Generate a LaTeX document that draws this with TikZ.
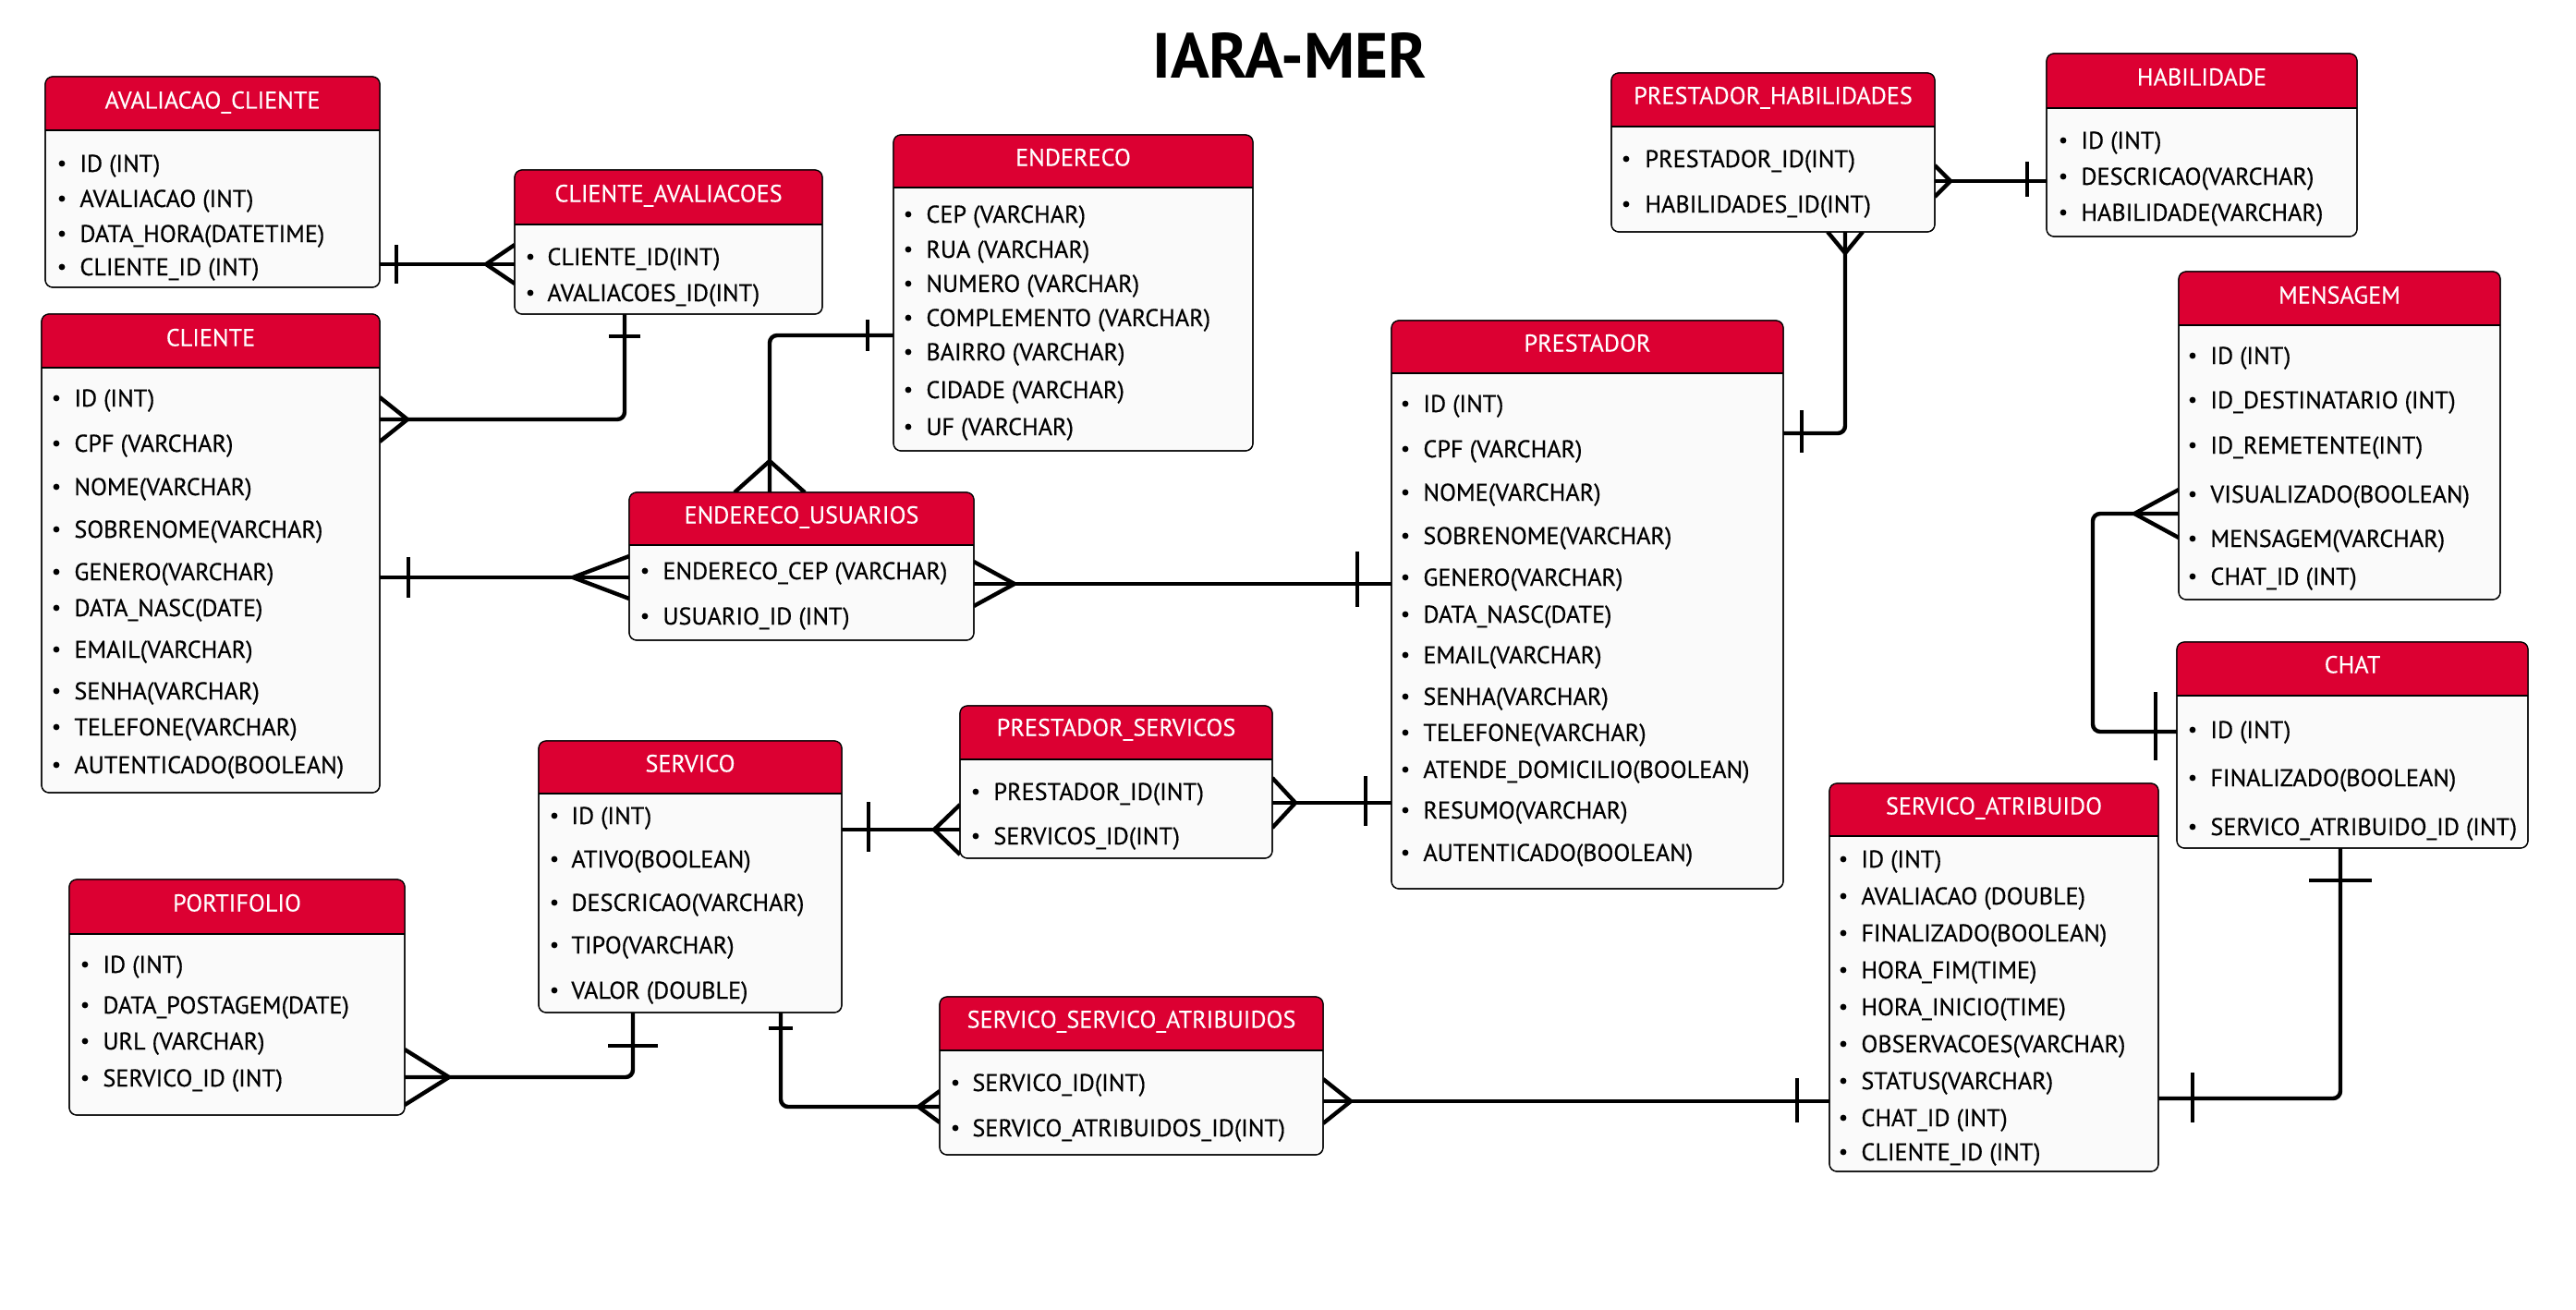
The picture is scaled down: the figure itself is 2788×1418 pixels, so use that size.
\documentclass[tikz,border=0pt]{standalone}
\usepackage{fontspec}
\setmainfont{PT Sans}
\newfontfamily\itemfont{PT Sans}[FakeBold=0.5]
\newfontfamily\hdrfont{PT Sans}[FakeBold=0.25]
\definecolor{hdrred}{RGB}{220,0,50}
\definecolor{bodyfill}{RGB}{250,250,250}
\pgfdeclarelayer{bglayer}
\pgfdeclarelayer{connlayer}
\pgfsetlayers{bglayer,connlayer,main}
\tikzset{
  x=0.5pt, y=-0.5pt,
  conn/.style={line width=2.2pt, rounded corners=4pt},
  crowline/.style={line width=2.2pt},
  tblbody/.style={draw=black, fill=bodyfill, line width=0.6pt, rounded corners=4pt, inner sep=0pt, outer sep=0pt},
  hdrtext/.style={text=white, font=\hdrfont\fontsize{13.1}{15}\selectfont, anchor=base, inner sep=0pt},
  itemtext/.style={text=black, font=\itemfont\fontsize{13.1}{15}\selectfont, anchor=base west, inner sep=0pt},
  titletext/.style={font=\fontsize{34.5}{38}\selectfont\bfseries, anchor=base, inner sep=0pt}
}
% #1 name, #2 x1, #3 y1, #4 x2, #5 y2, #6 header bottom, #7 title y, #8 title
\newcommand{\ertable}[8]{%
  \pgfmathsetmacro\tw{(#4-#2)*0.5}%
  \pgfmathsetmacro\th{(#5-#3)*0.5}%
  \node[tblbody, minimum width=\tw pt, minimum height=\th pt] (#1) at ({(#2+#4)/2},{(#3+#5)/2}) {};
  \begin{scope}
    \clip[rounded corners=4pt] (#2,#3) rectangle (#4,#5);
    \fill[hdrred] (#2,#3) rectangle (#4,#6);
  \end{scope}
  \draw[line width=0.6pt] (#2,#6) -- (#4,#6);
  \draw[line width=0.6pt, rounded corners=4pt] (#2,#3) rectangle (#4,#5);
  \node[hdrtext] (#1-t) at ({(#2+#4)/2},#7+8.5) {#8};
}
% #1 name, #2 bullet x, #3 text x, #4 list y/text
\newcommand{\eritems}[4]{%
  \foreach \yy/\itxt [count=\k] in {#4} {
    \fill (#2,\yy) circle (1.7pt);
    \node[itemtext] (#1-\k) at (#3,\yy+9) {\itxt};
  }
}
\newcommand{\crowH}[4]{\draw[crowline] (#1,#2-#4) -- (#3,#2) -- (#1,#2+#4);}
\newcommand{\crowV}[4]{\draw[crowline] (#1-#4,#2) -- (#1,#3) -- (#1+#4,#2);}
\newcommand{\barV}[3]{\draw[crowline] (#1,#2-#3) -- (#1,#2+#3);}
\newcommand{\barH}[3]{\draw[crowline] (#1-#3,#2) -- (#1+#3,#2);}
\begin{document}
\begin{tikzpicture}
\useasboundingbox (0,0) rectangle (2788,1418);
\begin{pgfonlayer}{bglayer}
\fill[white] (0,0) rectangle (2788,1418);
\end{pgfonlayer}

\node[titletext] (title) at (1396,85) {IARA-MER};

% tables
\ertable{AC}{49}{83}{411}{311}{141}{109}{AVALIACAO\_CLIENTE}
\eritems{AC}{67}{86}{177/ID (INT), 215/AVALIACAO (INT), 253/DATA\_HORA(DATETIME), 289/CLIENTE\_ID (INT)}

\ertable{CA}{557}{184}{890}{340}{243}{210}{CLIENTE\_AVALIACOES}
\eritems{CA}{574}{592}{278/CLIENTE\_ID(INT), 317/AVALIACOES\_ID(INT)}

\ertable{CLIENTE}{45}{340}{411}{858}{398}{366}{CLIENTE}
\eritems{CLIENTE}{61}{80}{431/ID (INT), 480/CPF (VARCHAR), 527/NOME(VARCHAR), 573/SOBRENOME(VARCHAR), 619/GENERO(VARCHAR), 658/DATA\_NASC(DATE), 703/EMAIL(VARCHAR), 748/SENHA(VARCHAR), 787/TELEFONE(VARCHAR), 828/AUTENTICADO(BOOLEAN)}

\ertable{ENDERECO}{967}{146}{1356}{488}{203}{171}{ENDERECO}
\eritems{ENDERECO}{983}{1002}{232/CEP (VARCHAR), 270/RUA (VARCHAR), 307/NUMERO (VARCHAR), 344/COMPLEMENTO (VARCHAR), 381/BAIRRO (VARCHAR), 422/CIDADE (VARCHAR), 462/UF (VARCHAR)}

\ertable{EU}{681}{533}{1054}{693}{590}{558}{ENDERECO\_USUARIOS}
\eritems{EU}{698}{717}{618/ENDERECO\_CEP (VARCHAR), 667/USUARIO\_ID (INT)}

\ertable{PH}{1744}{79}{2094}{251}{137}{104}{PRESTADOR\_HABILIDADES}
\eritems{PH}{1760}{1780}{172/PRESTADOR\_ID(INT), 221/HABILIDADES\_ID(INT)}

\ertable{HAB}{2215}{58}{2551}{256}{117}{84}{HABILIDADE}
\eritems{HAB}{2233}{2252}{152/ID (INT), 191/DESCRICAO(VARCHAR), 230/HABILIDADE(VARCHAR)}

\ertable{PRESTADOR}{1506}{347}{1930}{962}{404}{372}{PRESTADOR}
\eritems{PRESTADOR}{1521}{1540}{437/ID (INT), 486/CPF (VARCHAR), 533/NOME(VARCHAR), 580/SOBRENOME(VARCHAR), 625/GENERO(VARCHAR), 665/DATA\_NASC(DATE), 709/EMAIL(VARCHAR), 754/SENHA(VARCHAR), 793/TELEFONE(VARCHAR), 833/ATENDE\_DOMICILIO(BOOLEAN), 877/RESUMO(VARCHAR), 923/AUTENTICADO(BOOLEAN)}

\ertable{MENSAGEM}{2358}{294}{2706}{649}{352}{320}{MENSAGEM}
\eritems{MENSAGEM}{2373}{2392}{385/ID (INT), 433/ID\_DESTINATARIO (INT), 482/ID\_REMETENTE(INT), 535/VISUALIZADO(BOOLEAN), 583/MENSAGEM(VARCHAR), 624/CHAT\_ID (INT)}

\ertable{CHAT}{2356}{695}{2736}{918}{753}{720}{CHAT}
\eritems{CHAT}{2373}{2392}{790/ID (INT), 842/FINALIZADO(BOOLEAN), 895/SERVICO\_ATRIBUIDO\_ID (INT)}

\ertable{SA}{1980}{848}{2336}{1268}{905}{873}{SERVICO\_ATRIBUIDO}
\eritems{SA}{1995}{2014}{930/ID (INT), 970/AVALIACAO (DOUBLE), 1010/FINALIZADO(BOOLEAN), 1050/HORA\_FIM(TIME), 1090/HORA\_INICIO(TIME), 1130/OBSERVACOES(VARCHAR), 1170/STATUS(VARCHAR), 1210/CHAT\_ID (INT), 1247/CLIENTE\_ID (INT)}

\ertable{PS}{1039}{764}{1377}{929}{822}{788}{PRESTADOR\_SERVICOS}
\eritems{PS}{1056}{1075}{857/PRESTADOR\_ID(INT), 905/SERVICOS\_ID(INT)}

\ertable{SERVICO}{583}{802}{911}{1096}{859}{827}{SERVICO}
\eritems{SERVICO}{600}{618}{883/ID (INT), 930/ATIVO(BOOLEAN), 977/DESCRICAO(VARCHAR), 1023/TIPO(VARCHAR), 1072/VALOR (DOUBLE)}

\ertable{PORT}{75}{952}{438}{1207}{1011}{978}{PORTIFOLIO}
\eritems{PORT}{92}{111}{1044/ID (INT), 1088/DATA\_POSTAGEM(DATE), 1127/URL (VARCHAR), 1167/SERVICO\_ID (INT)}

\ertable{SSA}{1017}{1079}{1432}{1250}{1137}{1104}{SERVICO\_SERVICO\_ATRIBUIDOS}
\eritems{SSA}{1034}{1052}{1172/SERVICO\_ID(INT), 1221/SERVICO\_ATRIBUIDOS\_ID(INT)}

% connectors (below tables)
\begin{pgfonlayer}{connlayer}
\draw[conn] (AC.east |- 0,286) -- (CA.west |- 0,286);
\draw[conn] (CLIENTE.east |- 0,454) -| (CA.south -| 676,0);
\draw[conn] (CLIENTE.east |- 0,625) -- (EU.west |- 0,625);
\draw[conn] (EU.north -| 833,0) |- (ENDERECO.west |- 0,363);
\draw[conn] (EU.east |- 0,632) -- (PRESTADOR.west |- 0,632);
\draw[conn] (PH.east |- 0,196) -- (HAB.west |- 0,196);
\draw[conn] (PH.south -| 1997,0) |- (PRESTADOR.east |- 0,469);
\draw[conn] (PS.east |- 0,869) -- (PRESTADOR.west |- 0,869);
\draw[conn] (SERVICO.east |- 0,898) -- (PS.west |- 0,898);
\draw[conn] (PORT.east |- 0,1166) -| (SERVICO.south -| 685,0);
\draw[conn] (SERVICO.south -| 845,0) |- (SSA.west |- 0,1198);
\draw[conn] (SSA.east |- 0,1192) -- (SA.west |- 0,1192);
\draw[conn] (SA.east |- 0,1189) -| (CHAT.south -| 2533,0);
\coordinate (mbend) at (2265,556);
\coordinate (cbend) at (2265,792);
\draw[conn] (MENSAGEM.west |- mbend) -- (mbend) -- (cbend) -- (CHAT.west |- cbend);

% cardinality markers
\barV{429}{286}{21} \crowH{557}{286}{526}{21}
\crowH{411}{454}{441}{24} \barH{676}{364}{17}
\barV{442}{625}{22} \crowH{681}{625}{620}{23}
\crowV{833}{533}{499}{38} \barV{939}{363}{17}
\crowH{1054}{632}{1098}{24} \barV{1469}{627}{30}
\crowH{2094}{196}{2111}{17} \barV{2194}{194}{19}
\crowV{1997}{251}{274}{19} \barV{1950}{467}{23}
\crowH{1377}{869}{1402}{27} \barV{1478}{867}{27}
\barV{940}{895}{27} \crowH{1039}{898}{1011}{27}
\crowH{438}{1166}{486}{30} \barH{685}{1132}{27}
\barH{845}{1113}{13} \crowH{1017}{1198}{994}{17}
\crowH{1432}{1192}{1462}{24} \barV{1945}{1191}{24}
\barV{2373}{1188}{27} \barH{2533}{953}{34}
\crowH{2358}{556}{2310}{26} \barV{2333}{786}{37}
\end{pgfonlayer}
\end{tikzpicture}
\end{document}
